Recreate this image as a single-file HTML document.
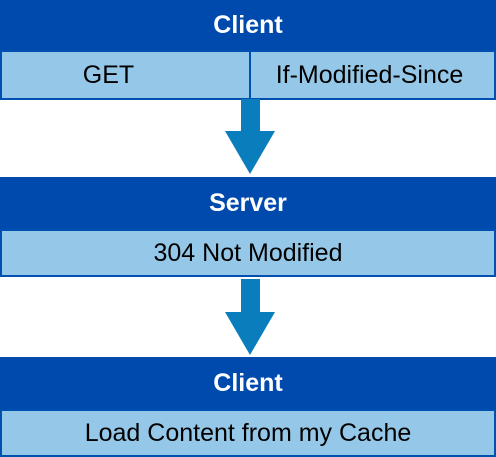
<!DOCTYPE html>
<html><head><style>
body{margin:0;width:496px;height:457px;background:#fff;font-family:"Liberation Sans",Arial,sans-serif;position:relative;overflow:hidden}
.h{position:absolute;left:0;width:496px;background:#004aad;color:#fff;font-weight:bold;font-size:25px;display:flex;align-items:center;justify-content:center}
.r{position:absolute;background:#95c8e8;border:2px solid #0050b0;box-sizing:border-box;color:#000;font-size:25px;display:flex;align-items:center;justify-content:center}
</style></head><body>
<div class="h" style="top:0;height:51px">Client</div>
<div class="r" style="top:50px;left:0;width:251px;height:50px;padding-right:34px">GET</div>
<div class="r" style="top:50px;left:249px;width:247px;height:50px;padding-right:6px">If-Modified-Since</div>
<svg style="position:absolute;left:0;top:0" width="496" height="457">
<polygon points="241,99 260,99 260,131 275,131 250,174 225,131 241,131" fill="#0a7dbd"/>
<polygon points="241,279 260,279 260,312 275,312 250,355 225,312 241,312" fill="#0a7dbd"/>
</svg>
<div class="h" style="top:177px;height:53px">Server</div>
<div class="r" style="top:229px;left:0;width:496px;height:48px">304 Not Modified</div>
<div class="h" style="top:357px;height:53px">Client</div>
<div class="r" style="top:409px;left:0;width:496px;height:48px">Load Content from my Cache</div>
</body></html>
